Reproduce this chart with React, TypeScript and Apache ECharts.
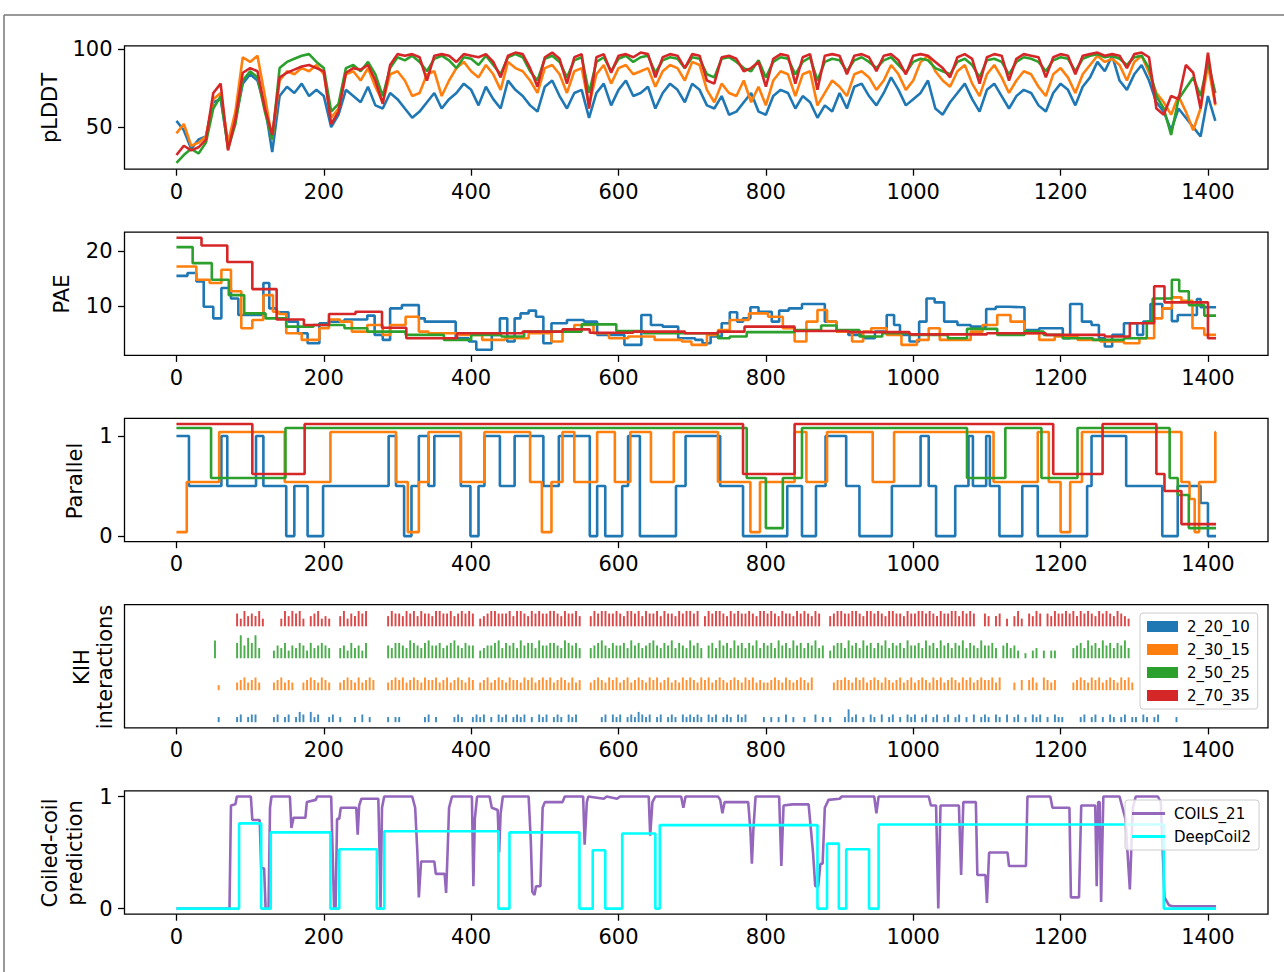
import React, { useEffect, useRef } from 'react';
import * as echarts from 'echarts';

// ---------- categories / names ----------
const SERIES_NAMES = ['2_20_10', '2_30_15', '2_50_25', '2_70_35'];
const COLORS = ['#1f77b4', '#ff7f0e', '#2ca02c', '#d62728'];
const COILS_COLOR = '#9467bd';
const DEEPCOIL_COLOR = '#00ffff';
const X_TICKS = [0, 200, 400, 600, 800, 1000, 1200, 1400];
const X_MIN = -70.5;
const X_MAX = 1481.5;
const X_END = 1411;

// ---------- pLDDT (sampled every 10 residues) ----------
const PLDDT_STEP = 10;
const plddt_2_20_10 = [
  54, 48, 36, 42, 44, 66, 68, 38, 55, 78,
  84, 80, 64, 34, 70, 76, 72, 78, 70, 74,
  70, 50, 58, 74, 70, 66, 76, 64, 62, 72,
  68, 62, 56, 60, 66, 72, 62, 68, 72, 78,
  74, 64, 76, 68, 62, 80, 74, 70, 64, 60,
  76, 80, 70, 62, 72, 74, 56, 72, 78, 64,
  74, 80, 70, 72, 76, 62, 72, 78, 74, 66,
  78, 74, 64, 62, 70, 58, 60, 66, 72, 60,
  58, 70, 74, 72, 62, 70, 66, 56, 64, 60,
  72, 62, 76, 78, 70, 64, 72, 82, 74, 64,
  68, 72, 80, 62, 58, 66, 72, 78, 68, 60,
  74, 78, 70, 62, 70, 74, 72, 64, 60, 72,
  78, 74, 64, 76, 82, 92, 86, 96, 80, 74,
  84, 90, 80, 66, 60, 48, 62, 56, 50, 44,
  70, 54,
];
const plddt_2_30_15 = [
  46, 52, 38, 40, 44, 68, 72, 40, 60, 95,
  92, 96, 70, 42, 80, 86, 84, 88, 86, 90,
  84, 56, 62, 84, 86, 80, 88, 76, 66, 84,
  86, 80, 70, 72, 84, 86, 70, 80, 88, 92,
  86, 82, 90, 84, 74, 92, 88, 86, 80, 72,
  88, 90, 84, 72, 86, 88, 64, 84, 90, 78,
  88, 90, 84, 86, 88, 76, 86, 90, 88, 80,
  92, 90, 74, 66, 78, 72, 70, 80, 66, 76,
  64, 80, 86, 84, 70, 84, 86, 64, 72, 80,
  76, 70, 84, 86, 82, 74, 80, 90, 84, 74,
  80, 92, 96, 86, 80, 76, 86, 90, 78, 70,
  84, 90, 82, 72, 80, 86, 84, 76, 70, 84,
  88, 82, 72, 84, 90, 96, 92, 94, 90, 80,
  92, 96, 85, 72, 66, 58, 70, 60, 48, 62,
  90, 64,
];
const plddt_2_50_25 = [
  27, 32, 36, 33, 40, 62, 70, 36, 52, 80,
  86, 82, 60, 42, 88, 92, 94, 96, 97, 92,
  88, 60, 65, 88, 90, 86, 92, 84, 70, 88,
  95, 93, 96, 92, 86, 94, 96, 93, 88, 95,
  94, 90, 96, 90, 84, 95, 97, 95, 86, 80,
  94, 96, 92, 82, 93, 95, 72, 92, 95, 86,
  94, 96, 92, 95, 96, 85, 93, 95, 94, 88,
  95, 94, 84, 82, 94, 95, 92, 88, 86, 93,
  82, 92, 95, 94, 84, 92, 95, 80, 92, 94,
  93, 86, 93, 95, 92, 88, 93, 95, 90, 85,
  92, 94, 93, 88, 86, 84, 92, 94, 90, 82,
  93, 94, 92, 84, 92, 95, 94, 92, 86, 93,
  95, 94, 86, 94, 96, 97, 95, 96, 94, 90,
  95, 96, 88, 70, 62, 45, 68, 75, 82, 70,
  92, 72,
];
const plddt_2_70_35 = [
  32, 38, 35, 37, 42, 72, 78, 35, 55, 85,
  88, 86, 62, 45, 82, 85, 87, 89, 90, 88,
  86, 52, 60, 85, 88, 87, 90, 80, 65, 90,
  97, 96, 97, 95, 80, 96, 97, 96, 92, 97,
  96, 95, 97, 92, 82, 96, 98, 97, 88, 76,
  95, 98, 94, 78, 95, 97, 62, 95, 97, 85,
  96, 97, 95, 98, 97, 82, 95, 97, 96, 88,
  97, 96, 80, 78, 95, 96, 94, 86, 88, 92,
  76, 94, 97, 96, 78, 95, 97, 74, 96, 97,
  96, 84, 96, 97, 95, 86, 96, 97, 93, 84,
  96, 97, 96, 92, 88, 82, 95, 97, 94, 78,
  95, 97, 96, 80, 94, 97, 96, 95, 82, 95,
  97, 96, 84, 96, 97, 98, 96, 97, 96, 88,
  97, 98, 95, 62, 58, 70, 68, 90, 85, 62,
  98, 65,
];

// ---------- PAE (step breakpoints: start residue, value) ----------
const pae_2_20_10_x = [0, 15, 27, 37, 50, 61, 74, 84, 118, 126, 136, 152, 165, 178, 194, 207, 228, 259, 269, 280, 290, 306, 329, 337, 379, 397, 407, 428, 439, 449, 459, 467, 478, 488, 498, 509, 530, 553, 571, 608, 631, 644, 660, 681, 704, 714, 725, 740, 751, 761, 769, 779, 790, 808, 818, 831, 849, 880, 896, 912, 932, 948, 964, 974, 982, 995, 1008, 1018, 1029, 1042, 1060, 1078, 1099, 1112, 1130, 1151, 1171, 1203, 1213, 1229, 1242, 1252, 1260, 1270, 1286, 1304, 1312, 1322, 1338, 1351, 1359, 1385, 1390];
const pae_2_20_10_y = [15.5, 16.0, 14.5, 9.9, 7.8, 13.3, 11.4, 8.4, 14.2, 9.6, 8.9, 7.2, 5.1, 3.3, 6.9, 7.2, 7.6, 8.3, 4.8, 3.9, 9.6, 10.2, 7.8, 7.2, 4.2, 3.6, 2.1, 4.8, 7.8, 3.6, 7.8, 8.7, 9.2, 8.1, 3.3, 6.9, 7.5, 7.2, 4.8, 3.0, 8.4, 6.6, 6.3, 4.2, 3.9, 3.3, 4.5, 6.9, 8.9, 7.2, 7.8, 9.8, 9.0, 7.2, 9.2, 9.6, 10.4, 7.2, 5.4, 4.8, 4.2, 5.4, 8.4, 6.6, 4.8, 3.6, 7.2, 11.4, 10.7, 7.2, 6.6, 6.3, 9.5, 9.9, 9.8, 5.7, 6.0, 4.2, 10.4, 7.2, 6.6, 4.2, 2.7, 4.8, 6.9, 4.8, 7.2, 10.4, 9.6, 7.3, 8.4, 11.3, 9.8];
const pae_2_30_15_x = [0, 27, 45, 61, 74, 88, 103, 118, 131, 139, 149, 170, 194, 207, 222, 238, 259, 280, 290, 311, 329, 342, 384, 415, 446, 478, 509, 524, 540, 566, 587, 613, 649, 686, 699, 720, 735, 751, 777, 803, 823, 839, 855, 870, 883, 896, 917, 932, 943, 964, 984, 1005, 1021, 1036, 1078, 1094, 1114, 1132, 1151, 1171, 1192, 1223, 1254, 1286, 1307, 1327, 1338, 1351, 1364, 1379, 1395];
const pae_2_30_15_y = [17.2, 14.8, 14.2, 16.6, 12.7, 6.0, 7.5, 12.0, 9.0, 8.6, 5.1, 3.9, 6.0, 7.6, 7.2, 5.4, 6.6, 4.8, 6.6, 8.1, 5.4, 5.1, 4.8, 3.9, 4.2, 5.1, 3.6, 5.4, 6.6, 5.1, 4.2, 4.5, 3.9, 3.6, 3.0, 4.8, 5.7, 7.5, 8.7, 8.1, 6.0, 3.6, 7.2, 9.3, 7.2, 5.4, 3.6, 5.4, 6.0, 4.8, 3.0, 3.9, 6.0, 3.9, 5.4, 6.6, 8.4, 7.2, 5.1, 3.9, 4.5, 3.9, 3.6, 3.3, 4.2, 7.8, 9.6, 11.6, 11.0, 6.0, 4.8];
const pae_2_50_25_x = [0, 22, 48, 71, 92, 121, 149, 186, 228, 259, 311, 363, 400, 441, 472, 550, 597, 634, 735, 751, 774, 839, 875, 896, 927, 958, 995, 1047, 1073, 1114, 1151, 1177, 1203, 1244, 1286, 1317, 1325, 1351, 1361, 1374, 1395];
const pae_2_50_25_y = [20.7, 17.8, 14.8, 12.0, 8.7, 7.8, 6.3, 6.6, 6.0, 5.4, 4.8, 3.9, 4.8, 4.5, 5.4, 6.7, 5.5, 5.1, 4.2, 4.5, 5.3, 5.7, 6.5, 5.7, 4.5, 5.1, 4.8, 4.2, 5.9, 4.8, 5.4, 4.8, 4.2, 3.9, 4.2, 7.2, 11.4, 14.8, 12.7, 10.2, 8.3];
const pae_2_70_35_x = [0, 34, 69, 103, 136, 173, 207, 243, 279, 312, 381, 470, 524, 561, 620, 690, 735, 771, 839, 912, 995, 1100, 1180, 1260, 1294, 1327, 1341, 1400];
const pae_2_70_35_y = [22.4, 21.0, 18.0, 13.1, 7.6, 6.6, 8.6, 9.0, 6.1, 4.2, 5.1, 5.4, 5.8, 5.2, 5.4, 5.1, 5.4, 6.3, 5.5, 5.3, 4.9, 5.1, 4.8, 4.5, 6.9, 13.6, 10.7, 4.2];

// ---------- Parallel (step breakpoints) ----------
const PARALLEL_OFFSETS = [0, 0.04, 0.08, 0.12];
const par_2_20_10_x = [0, 17, 61, 69, 108, 118, 149, 160, 178, 199, 288, 298, 309, 319, 329, 342, 350, 386, 399, 410, 418, 439, 459, 498, 519, 561, 571, 582, 605, 613, 629, 678, 691, 738, 769, 829, 849, 868, 881, 909, 927, 971, 1010, 1021, 1031, 1057, 1075, 1081, 1099, 1104, 1117, 1148, 1169, 1236, 1242, 1289, 1338, 1359, 1390, 1400];
const par_2_20_10_y = [1, 0.5, 1, 0.5, 1, 0.5, 0, 0.5, 0, 0.5, 1, 0.5, 0, 0.5, 1, 0.5, 1, 0.5, 0, 0.5, 1, 0.5, 1, 0.5, 1, 0, 0.5, 0, 0.5, 1, 0, 0.5, 1, 0.5, 0, 0.5, 0, 0.5, 1, 0.5, 0, 0.5, 1, 0.5, 0, 0.5, 1, 0.5, 1, 0.5, 0, 0.5, 0, 0.5, 1, 0.5, 0, 0.5, 0.33, 0];
const par_2_30_15_x = [0, 14, 58, 147, 209, 298, 314, 329, 342, 386, 418, 480, 496, 509, 524, 540, 571, 595, 616, 644, 675, 735, 779, 792, 839, 855, 883, 945, 974, 1109, 1169, 1184, 1200, 1213, 1229, 1364, 1375, 1382, 1388, 1410];
const par_2_30_15_y = [0, 0.5, 1, 0.5, 1, 0.5, 0, 0.5, 1, 0.5, 1, 0.5, 0, 0.5, 1, 0.5, 1, 0.5, 1, 0.5, 1, 0.5, 0, 0.5, 1, 0.5, 1, 0.5, 1, 0.5, 1, 0.5, 0, 0.5, 1, 0.5, 0.33, 0, 0.5, 1];
const par_2_50_25_x = [0, 47, 148, 774, 800, 823, 849, 1073, 1125, 1174, 1223, 1348, 1359, 1374];
const par_2_50_25_y = [1, 0.5, 1, 0.5, 0, 0.5, 1, 0.5, 1, 0.5, 1, 0.5, 0.33, 0];
const par_2_70_35_x = [0, 103, 174, 769, 839, 1190, 1257, 1330, 1341, 1364];
const par_2_70_35_y = [1, 0.5, 1, 0.5, 1, 0.5, 1, 0.5, 0.33, 0];

// ---------- KIH interactions (5-residue bins, digit = bar height level) ----------
const KIH_BIN = 5;
const KIH_LEVEL = 0.08;
const KIH_OFFSETS = [0, 1, 2, 3];
const kih_2_20_10 =
  '00000000000200002302' + '33000023023024304230' + '02302000203020000202' + '20000002302000023200' +
  '23230203230232302032' + '30232032300000023032' + '30232432302302320323' + '23203230232032300002' +
  '02020302002003020200' + '02523020320302302032' + '30230230230230203023' + '20320302302032302032' +
  '20000230230203202302' + '20320230000200000000' + '000';
const kih_2_30_15 =
  '00000000000200003453' + '45300034534300345435' + '43003454353454000345' + '45345435445345345435' +
  '40345345435443545345' + '45345435340034543545' + '34534543545345343545' + '43545345434543545343' +
  '34543543454350000034' + '45435453454354345345' + '34543545345435453454' + '45350003040453054340' +
  '00034543545345435453' + '00000000000000000000' + '000';
const kih_2_50_25 =
  '00000000007000006958' + '69400035463546536456' + '54004536453600000546' + '65476546755645675465' +
  '50345567465647566475' + '56654765640045675465' + '56475645675465746547' + '56405647564756465746' +
  '56475647564657450356' + '64756475646574656475' + '56475647564657465475' + '56405645302034030330' +
  '00045647564756465740' + '00000000000000000000' + '000';
const kih_2_70_35 =
  '00000000000000005364' + '54630000364656304563' + '43004635465600000465' + '54656465546655645656' +
  '50345665556466546565' + '56654655640046566556' + '54665646556465546566' + '56046566546565565466' +
  '56546554656546500456' + '65566546656546655465' + '56656546556646565005' + '40450304630546505465' +
  '56564656546565465430' + '00000000000000000000' + '000';

// ---------- Coiled-coil prediction ----------
const coils_x = [0, 72, 74, 80, 82, 101, 103, 113, 115, 119, 121, 125, 127, 129, 154, 156, 159, 175, 177, 189, 191, 210, 212, 214, 216, 218, 221, 223, 244, 246, 248, 251, 274, 276, 277, 279, 282, 320, 324, 327, 329, 332, 350, 352, 364, 366, 368, 370, 374, 401, 403, 405, 408, 425, 428, 436, 438, 440, 443, 478, 481, 483, 486, 488, 494, 497, 500, 524, 527, 552, 554, 557, 559, 580, 584, 598, 602, 641, 643, 646, 650, 685, 688, 691, 735, 738, 741, 744, 776, 779, 781, 783, 786, 818, 821, 824, 836, 858, 864, 867, 871, 874, 877, 880, 885, 900, 903, 947, 950, 953, 1021, 1024, 1031, 1034, 1037, 1062, 1065, 1068, 1085, 1087, 1098, 1100, 1103, 1128, 1130, 1153, 1155, 1186, 1189, 1212, 1214, 1225, 1228, 1247, 1249, 1251, 1253, 1255, 1258, 1280, 1288, 1294, 1298, 1302, 1332, 1336, 1341, 1347, 1352, 1411];
const coils_y = [0, 0, 0.92, 0.93, 1.0, 1.0, 0.79, 0.79, 0.36, 0.36, 0, 0, 0.9, 1.0, 1.0, 0.72, 0.81, 0.81, 0.95, 0.97, 1.0, 1.0, 0.5, 0, 0, 0.8, 0.8, 0.9, 0.9, 0.66, 0.92, 0.98, 0.98, 0.4, 0, 0.9, 1.0, 1.0, 0.9, 0.5, 0.1, 0.42, 0.42, 0.31, 0.31, 0.14, 0.5, 0.9, 1.0, 1.0, 0.2, 0.8, 1.0, 1.0, 0.9, 0.88, 0.5, 0.85, 1.0, 1.0, 0.6, 0.15, 0.12, 0.2, 0.2, 0.9, 0.95, 0.95, 1.0, 1.0, 0.57, 0.95, 1.0, 0.98, 1.0, 0.98, 1.0, 1.0, 0.65, 0.95, 1.0, 1.0, 0.9, 1.0, 1.0, 0.97, 0.85, 0.95, 0.95, 0.7, 0.4, 0.7, 1.0, 1.0, 0.38, 0.92, 0.93, 0.93, 0.5, 0.2, 0.2, 0.4, 0.4, 0.9, 0.97, 0.98, 1.0, 1.0, 0.85, 1.0, 1.0, 0.92, 0.92, 0, 0.92, 0.92, 0.3, 0.95, 0.95, 0.3, 0.3, 0.05, 0.5, 0.5, 0.38, 0.38, 1.0, 1.0, 0.9, 0.9, 0.1, 0.1, 0.92, 0.92, 0.2, 0.95, 0.95, 0.06, 1.0, 1.0, 0.8, 0.17, 0.9, 1.0, 1.0, 0.95, 0.1, 0.03, 0.02, 0.02];
const deepcoil_x = [0, 85, 115, 128, 209, 221, 272, 282, 437, 452, 547, 565, 582, 605, 650, 656, 870, 883, 899, 909, 940, 953, 1340];
const deepcoil_y = [0, 0.76, 0, 0.68, 0, 0.53, 0, 0.69, 0, 0.68, 0, 0.52, 0, 0.67, 0, 0.745, 0, 0.58, 0, 0.53, 0, 0.75, 0];

// ---------- layout ----------
const GRID_LEFT = 124.5;
const GRID_WIDTH = 1143.5;
const GRID_TOPS = [45.9, 232.1, 418.4, 604.6, 790.9];
const GRID_HEIGHT = 123.3;
const Y_RANGES: [number, number][] = [[22.9, 102.3], [1.09, 23.42], [-0.056, 1.176], [-0.18, 3.68], [-0.05, 1.05]];
const Y_TICKS = [[50, 100], [10, 20], [0, 1], [], [0, 1]];
const FONT = 'DejaVu Sans';
const LW = 2.6;

function stepData(xs: number[], ys: number[], end: number, offset = 0) {
  const d = xs.map((x, i) => [x, +(ys[i] + offset).toFixed(3)]);
  d.push([end, +(ys[ys.length - 1] + offset).toFixed(3)]);
  return d;
}

function kihData(s: string, base: number) {
  const out: number[][] = [];
  for (let i = 0; i < s.length; i++) {
    const d = Number(s[i]);
    if (d > 0) out.push([i * KIH_BIN + 1, base, d * KIH_LEVEL]);
  }
  return out;
}

function buildOption() {
  const grids = GRID_TOPS.map((t) => ({
    left: GRID_LEFT, top: t, width: GRID_WIDTH, height: GRID_HEIGHT,
    show: true, borderColor: '#000', borderWidth: 1.3, backgroundColor: 'transparent',
    containLabel: false, outerBoundsMode: 'none',
  }));
  const xAxes = GRID_TOPS.map((_, i) => ({
    type: 'value', gridIndex: i, min: X_MIN, max: X_MAX, position: 'bottom',
    axisLine: { show: false, onZero: false }, splitLine: { show: false },
    axisTick: { show: true, length: 6.5, lineStyle: { color: '#000', width: 1.3 }, customValues: X_TICKS },
    axisLabel: { customValues: X_TICKS, margin: 12, fontSize: 21, fontFamily: FONT, color: '#000', formatter: (v: number) => String(v) },
  }));
  const yAxes = GRID_TOPS.map((_, i) => ({
    type: 'value', gridIndex: i, min: Y_RANGES[i][0], max: Y_RANGES[i][1], position: 'left',
    axisLine: { show: false, onZero: false }, splitLine: { show: false },
    axisTick: { show: Y_TICKS[i].length > 0, length: 6.5, lineStyle: { color: '#000', width: 1.3 }, customValues: Y_TICKS[i] },
    axisLabel: { show: Y_TICKS[i].length > 0, customValues: Y_TICKS[i], margin: 12, fontSize: 21, fontFamily: FONT, color: '#000', formatter: (v: number) => String(v) },
  }));

  const plddt = [plddt_2_20_10, plddt_2_30_15, plddt_2_50_25, plddt_2_70_35];
  const paeX = [pae_2_20_10_x, pae_2_30_15_x, pae_2_50_25_x, pae_2_70_35_x];
  const paeY = [pae_2_20_10_y, pae_2_30_15_y, pae_2_50_25_y, pae_2_70_35_y];
  const parX = [par_2_20_10_x, par_2_30_15_x, par_2_50_25_x, par_2_70_35_x];
  const parY = [par_2_20_10_y, par_2_30_15_y, par_2_50_25_y, par_2_70_35_y];
  const kih = [kih_2_20_10, kih_2_30_15, kih_2_50_25, kih_2_70_35];

  const series: any[] = [];
  SERIES_NAMES.forEach((n, i) => {
    series.push({
      type: 'line', name: 'pLDDT ' + n, xAxisIndex: 0, yAxisIndex: 0, symbol: 'none',
      lineStyle: { color: COLORS[i], width: LW }, itemStyle: { color: COLORS[i] },
      data: plddt[i].map((v, k) => [k * PLDDT_STEP, v]),
    });
  });
  SERIES_NAMES.forEach((n, i) => {
    series.push({
      type: 'line', name: 'PAE ' + n, xAxisIndex: 1, yAxisIndex: 1, symbol: 'none', step: 'end',
      lineStyle: { color: COLORS[i], width: LW }, itemStyle: { color: COLORS[i] },
      data: stepData(paeX[i], paeY[i], X_END),
    });
  });
  SERIES_NAMES.forEach((n, i) => {
    series.push({
      type: 'line', name: 'Parallel ' + n, xAxisIndex: 2, yAxisIndex: 2, symbol: 'none', step: 'end',
      lineStyle: { color: COLORS[i], width: LW }, itemStyle: { color: COLORS[i] },
      data: stepData(parX[i], parY[i], X_END, PARALLEL_OFFSETS[i]),
    });
  });
  SERIES_NAMES.forEach((n, i) => {
    series.push({
      type: 'custom', name: n, xAxisIndex: 3, yAxisIndex: 3,
      itemStyle: { color: COLORS[i] },
      encode: { x: 0, y: [1, 2] },
      data: kihData(kih[i], KIH_OFFSETS[i]),
      renderItem: (params: any, api: any) => {
        const x = api.value(0), b = api.value(1), h = api.value(2);
        const p0 = api.coord([x, b]);
        const p1 = api.coord([x + 2.6, b + h]);
        return {
          type: 'rect',
          shape: { x: p0[0], y: p1[1], width: Math.max(p1[0] - p0[0], 1), height: p0[1] - p1[1] },
          style: { fill: COLORS[i], opacity: 0.85 },
        };
      },
    });
  });
  series.push({
    type: 'line', name: 'COILS_21', xAxisIndex: 4, yAxisIndex: 4, symbol: 'none',
    lineStyle: { color: COILS_COLOR, width: LW }, itemStyle: { color: COILS_COLOR },
    data: coils_x.map((x, i) => [x, coils_y[i]]),
  });
  series.push({
    type: 'line', name: 'DeepCoil2', xAxisIndex: 4, yAxisIndex: 4, symbol: 'none', step: 'end',
    lineStyle: { color: DEEPCOIL_COLOR, width: LW }, itemStyle: { color: DEEPCOIL_COLOR },
    data: stepData(deepcoil_x, deepcoil_y, X_END),
  });

  const legendBase = {
    orient: 'vertical', selectedMode: false,
    backgroundColor: 'rgba(255,255,255,0.8)', borderColor: '#cccccc', borderWidth: 1, borderRadius: 3,
    padding: [6, 8, 6, 7], itemGap: 8,
    textStyle: { fontSize: 15, fontFamily: FONT, color: '#000', padding: [0, 0, 0, 4] },
  };
  const legends = [
    {
      ...legendBase, left: 1140, top: 613, itemWidth: 31, itemHeight: 11,
      data: SERIES_NAMES.map((n, i) => ({ name: n, icon: 'rect', itemStyle: { color: COLORS[i] } })),
    },
    {
      ...legendBase, left: 1125, top: 800, itemWidth: 33, itemHeight: 3,
      data: [
        { name: 'COILS_21', icon: 'rect', itemStyle: { color: COILS_COLOR } },
        { name: 'DeepCoil2', icon: 'rect', itemStyle: { color: DEEPCOIL_COLOR } },
      ],
    },
  ];

  const yTitle = (text: string, x: number, y: number) => ({
    type: 'text', x, y, rotation: Math.PI / 2,
    style: { text, fontSize: 21, fontFamily: FONT, fill: '#000', align: 'center', verticalAlign: 'middle', textAlign: 'center', textVerticalAlign: 'middle' },
  });

  const graphic = [
    { type: 'line', shape: { x1: 4, y1: 15, x2: 1284, y2: 15 }, style: { stroke: '#777', lineWidth: 1.5 } },
    { type: 'line', shape: { x1: 4, y1: 15, x2: 4, y2: 972 }, style: { stroke: '#777', lineWidth: 1.5 } },
    yTitle('pLDDT', 50, 108),
    yTitle('PAE', 62, 294),
    yTitle('Parallel', 75, 481),
    yTitle('KIH', 82, 667),
    yTitle('interactions', 105, 667),
    yTitle('Coiled-coil', 50, 853),
    yTitle('prediction', 75, 853),
  ];

  return {
    animation: false,
    backgroundColor: '#ffffff',
    grid: grids,
    xAxis: xAxes,
    yAxis: yAxes,
    legend: legends,
    series,
    graphic,
  };
}

export default function App() {
  const ref = useRef<HTMLDivElement>(null);
  useEffect(() => {
    if (!ref.current) return;
    const chart = echarts.init(ref.current, undefined, { renderer: 'svg' });
    chart.setOption(buildOption() as any);
    return () => chart.dispose();
  }, []);
  return <div ref={ref} style={{ position: 'fixed', left: 0, top: 0, width: 1284, height: 972, background: '#fff' }} />;
}
